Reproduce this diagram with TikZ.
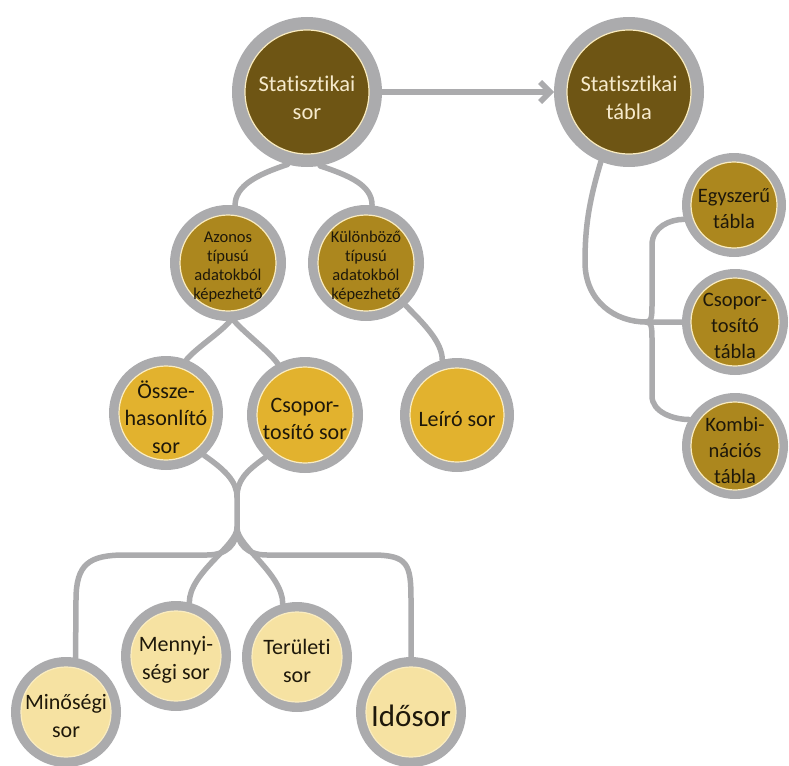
\documentclass[tikz,border=0pt]{standalone}
\usepackage{fontspec}
\setmainfont{Carlito}[Ligatures=NoCommon]
\usetikzlibrary{arrows.meta,backgrounds}

\definecolor{ringgray}{RGB}{171,171,173}
\definecolor{bubedge}{RGB}{250,236,192}
\definecolor{darkfill}{RGB}{110,85,20}
\definecolor{midfill}{RGB}{172,135,30}
\definecolor{goldfill}{RGB}{226,178,46}
\definecolor{palefill}{RGB}{246,226,162}
\definecolor{lighttext}{RGB}{246,234,204}
\definecolor{darktext}{RGB}{30,24,10}

\tikzset{
  bub/.style={circle, inner sep=0pt, draw=bubedge, line width=1.2pt},
  bubtext/.style={inner sep=0pt, align=center, yshift=-4pt},
  darkbub/.style={fill=darkfill},
  darktxt/.style={text=lighttext, font=\fontsize{22.5}{28}\selectfont, yshift=-2pt},
  midbub/.style={fill=midfill},
  midtxt/.style={text=darktext, font=\fontsize{16.5}{19}\selectfont},
  goldbub/.style={fill=goldfill},
  goldtxt/.style={text=darktext, font=\fontsize{22}{27.5}\selectfont},
  tabtxt/.style={text=darktext, font=\fontsize{20.5}{26}\selectfont},
  palebub/.style={fill=palefill},
  paletxt/.style={text=darktext, font=\fontsize{22}{28}\selectfont},
  bigtxt/.style={text=darktext, font=\fontsize{31}{36}\selectfont},
  conn/.style={draw=ringgray, line width=5.5pt, line cap=round, line join=round},
}

% #1 name, #2 centre, #3 inner radius, #4 ring width, #5 disc style, #6 text style, #7 text
\newcommand\bubble[7]{%
  \fill[ringgray] #2 circle[radius=#3+#4];
  \node[bub,#5,minimum size=2*#3pt,outer sep=#4pt] (#1) at #2 {};
  \node[bubtext,#6] (#1-text) at (#1.center) {#7};}

\begin{document}
\begin{tikzpicture}[x=1pt,y=-1pt]
\useasboundingbox (0,0) rectangle (789,765);

% bubbles
\bubble{top}{(307,92)}{62}{13}{darkbub}{darktxt}{Statisztikai\\sor}
\bubble{tabla}{(629,92)}{62}{13}{darkbub}{darktxt}{Statisztikai\\tábla}
\bubble{azonos}{(228,263)}{48}{10}{midbub}{midtxt}{Azonos\\típusú\\adatokból\\képezhető}
\bubble{kulonbozo}{(366,263)}{48}{10}{midbub}{midtxt}{Különböző\\típusú\\adatokból\\képezhető}
\bubble{ossze}{(166,413)}{47}{10}{goldbub}{goldtxt}{Össze-\\hasonlító\\sor}
\bubble{csopor}{(305,415)}{48}{10}{goldbub}{goldtxt}{Csopor-\\tosító sor}
\bubble{leiro}{(457,415)}{47}{10}{goldbub}{goldtxt}{Leíró sor}
\bubble{egyszeru}{(734,205)}{43}{9}{midbub}{tabtxt}{Egyszerű\\tábla}
\bubble{csoptabla}{(735,322)}{44}{9}{midbub}{tabtxt}{Csopor-\\tosító\\tábla}
\bubble{kombi}{(735,446)}{44}{9}{midbub}{tabtxt}{Kombi-\\nációs\\tábla}
\bubble{minosegi}{(66,712)}{45}{10}{palebub}{paletxt}{Minőségi\\sor}
\bubble{mennyi}{(176,656)}{45}{10}{palebub}{paletxt}{Mennyi-\\ségi sor}
\bubble{terulet}{(297,657)}{45}{10}{palebub}{paletxt}{Területi\\sor}
\bubble{idosor}{(411,712)}{45}{10}{palebub}{bigtxt}{Idősor}

% junction points
\coordinate (tj) at (646,322);
\coordinate (bm) at (237,497);
\coordinate (bt) at (237,528);

\begin{scope}[on background layer]
  % series tree
  \draw[conn] (top.-105) .. controls +(-30,10) and +(0,-20) .. (azonos.83);
  \draw[conn] (top.-80) .. controls +(30,10) and +(0,-20) .. (kulonbozo.84);
  \draw[conn] (azonos.-88) .. controls +(-10,12) and +(10,-12) .. (ossze.69);
  \draw[conn] (azonos.-84) .. controls +(10,12) and +(-8,-12) .. (csopor.118);
  \draw[conn] (kulonbozo.-47) .. controls +(18,18) and +(0,-18) .. (leiro.105);
  % lower branches
  \draw[conn] (ossze.-48) .. controls +(20,14) and +(0,-16) .. (bm) -- (bt);
  \draw[conn] (csopor.-133) .. controls +(-20,14) and +(0,-16) .. (bm);
  \draw[conn] (bt) .. controls +(0,16) and +(20,0) .. (207,555) -- (125,555)
              .. controls +(-36,0) and +(0,-36) .. (76,600) -- (minosegi.80);
  \draw[conn] (bt) .. controls +(0,18) and +(0,-30) .. (mennyi.76);
  \draw[conn] (bt) .. controls +(0,18) and +(0,-30) .. (terulet.105);
  \draw[conn] (bt) .. controls +(0,16) and +(-20,0) .. (267,555) -- (372,555)
              .. controls +(36,0) and +(0,-36) .. (411,600) -- (idosor.90);
  % table tree
  \draw[conn] (tabla.-112) .. controls +(-12,40) and +(0,-35) .. (585,262)
              .. controls +(0,40) and +(-30,0) .. (tj) -- (csoptabla);
  \draw[conn] (tj) .. controls +(6,0) and +(0,14) .. (652,302) -- (652,245)
              .. controls +(0,-18) and +(-14,0) .. (egyszeru.196);
  \draw[conn] (tj) .. controls +(6,0) and +(0,-14) .. (652,342) -- (652,396)
              .. controls +(0,16) and +(-16,0) .. (kombi.150);
\end{scope}

% series to table
\draw[conn,-{Straight Barb[length=10pt,width=20pt]}] (top) -- (tabla);
\end{tikzpicture}
\end{document}
